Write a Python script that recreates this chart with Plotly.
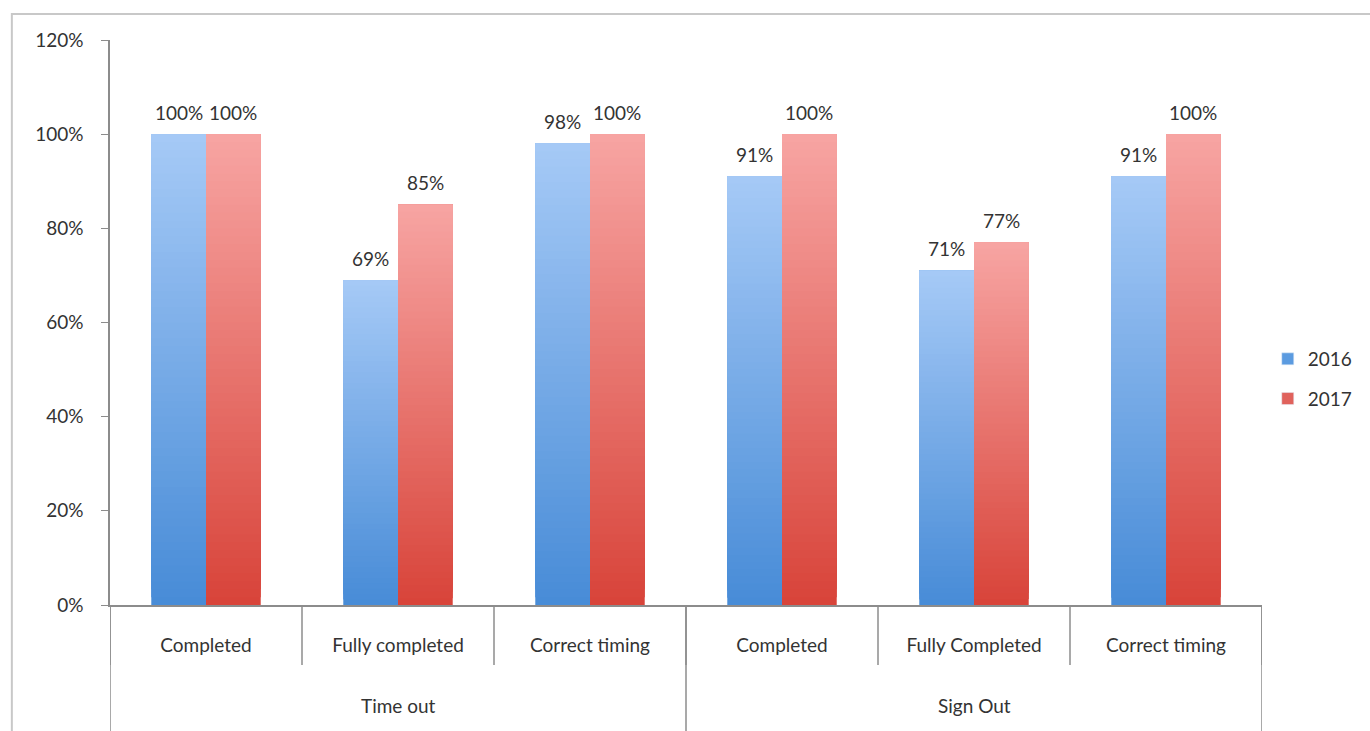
import plotly.graph_objects as go

groups = ["Time out", "Sign Out"]
group_sizes = [3, 3]
categories = ["Completed", "Fully completed", "Correct timing",
              "Completed", "Fully Completed", "Correct timing"]
values_2016 = [100, 69, 98, 91, 71, 91]
values_2017 = [100, 85, 100, 100, 77, 100]
y_ticks = [0, 20, 40, 60, 80, 100, 120]

FONT = "Lato, Open Sans, sans-serif"
FS = 19
TXT = "#333333"
AX = "#8c8c8c"
N = 60
BARGAP = 0.43

def lerp(c1, c2, t):
    return "rgb(%d,%d,%d)" % tuple(round(a + (b - a) * t) for a, b in zip(c1, c2))

series = [
    ("2016", values_2016, (72, 140, 215), (165, 201, 246), "#5b9be0"),
    ("2017", values_2017, (216, 68, 58), (247, 164, 162), "#e0625c"),
]

xpos = list(range(len(categories)))
n = len(categories)

W, H = 1370, 731
ML, MR, MT, MB = 110, 106, 40, 126
plot_w = W - ML - MR
bar_px = plot_w / n * (1 - BARGAP) / len(series)

fig = go.Figure()
annotations = []
for si, (name, vals, bottom, top, legcol) in enumerate(series):
    for k in range(N):
        t = k / (N - 1)
        fig.add_trace(go.Bar(
            x=xpos,
            y=[v * (N - k) / N for v in vals],
            base=[v * k / N for v in vals],
            offsetgroup=name,
            legendgroup=name,
            marker=dict(color=lerp(bottom, top, t), line=dict(width=0)),
            showlegend=False,
            hoverinfo="skip",
        ))
    fig.add_trace(go.Bar(
        x=xpos, y=[None] * len(vals), name=name, offsetgroup=name,
        legendgroup=name, marker=dict(color=legcol), showlegend=True,
    ))
    shift = (si - (len(series) - 1) / 2) * bar_px
    for xi, v in zip(xpos, vals):
        annotations.append(dict(x=xi, y=v, xref="x", yref="y", text=f"{v}%",
                                showarrow=False, xshift=shift, yshift=22,
                                yanchor="middle",
                                font=dict(family=FONT, size=FS, color=TXT)))

shapes = []
for i in range(n + 1):
    xb = i - 0.5
    shapes.append(dict(type="line", xref="x", yref="paper", x0=xb, x1=xb,
                       y0=0, y1=-0.106, line=dict(color=AX, width=1.5)))
start = 0
bounds = [-0.5]
for g, sz in zip(groups, group_sizes):
    annotations.append(dict(x=start + (sz - 1) / 2, y=-0.1787, xref="x", yref="paper",
                            text=g, showarrow=False, yanchor="middle",
                            font=dict(family=FONT, size=FS, color=TXT)))
    start += sz
    bounds.append(start - 0.5)
for xb in bounds:
    shapes.append(dict(type="line", xref="x", yref="paper", x0=xb, x1=xb,
                       y0=0, y1=-0.25, line=dict(color=AX, width=1.5)))
shapes.append(dict(type="rect", xref="paper", yref="paper",
                   x0=-0.0852, x1=1.2, y0=-0.3, y1=1.046,
                   line=dict(color="#c8c8c8", width=2), layer="below"))

fig.update_layout(
    width=W, height=H,
    barmode="group",
    bargap=BARGAP,
    bargroupgap=0,
    plot_bgcolor="white",
    paper_bgcolor="white",
    margin=dict(l=ML, r=MR, t=MT, b=MB),
    font=dict(family=FONT, size=FS, color=TXT),
    showlegend=True,
    legend=dict(x=1.005, y=0.40, xanchor="left", yanchor="middle",
                font=dict(family=FONT, size=FS, color=TXT),
                tracegroupgap=12, itemwidth=30),
    xaxis=dict(
        range=[-0.5, n - 0.5],
        tickvals=xpos, ticktext=categories,
        showline=True, linecolor=AX, linewidth=1.5,
        ticks="", ticklabelstandoff=22,
        tickfont=dict(family=FONT, size=FS, color=TXT),
        showgrid=False, zeroline=False,
    ),
    yaxis=dict(
        range=[0, 120], tickvals=y_ticks, ticktext=[f"{v}%" for v in y_ticks],
        showline=True, linecolor=AX, linewidth=1.5,
        ticks="outside", ticklen=7, tickcolor=AX,
        ticklabelstandoff=14,
        showgrid=False, zeroline=False,
        tickfont=dict(family=FONT, size=FS, color=TXT),
    ),
    shapes=shapes,
    annotations=annotations,
)

fig.write_html("out.html")
